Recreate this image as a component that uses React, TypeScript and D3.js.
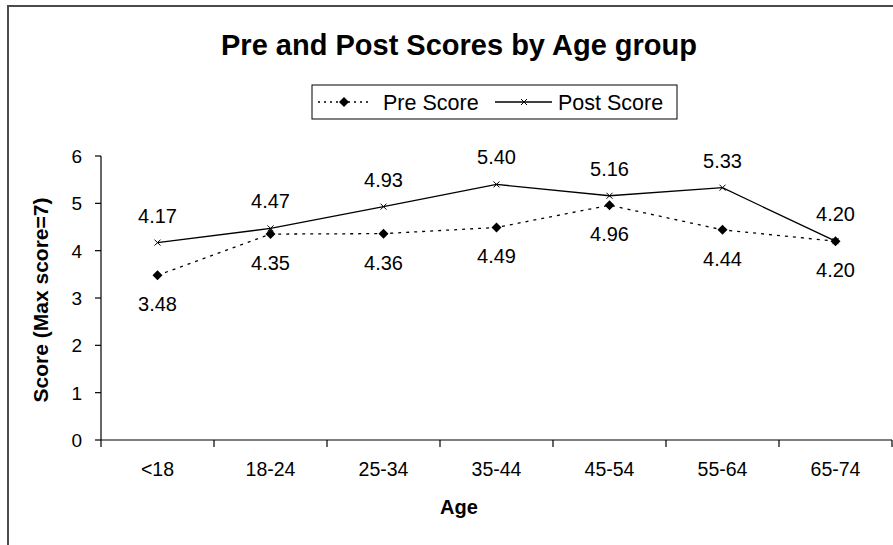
import React from "react";
import * as d3 from "d3";

const categories = ["<18", "18-24", "25-34", "35-44", "45-54", "55-64", "65-74"];
const preScores = [3.48, 4.35, 4.36, 4.49, 4.96, 4.44, 4.2];
const postScores = [4.17, 4.47, 4.93, 5.4, 5.16, 5.33, 4.2];
const yTicks = [0, 1, 2, 3, 4, 5, 6];
const title = "Pre and Post Scores by Age group";
const yTitle = "Score (Max score=7)";
const xTitle = "Age";
const seriesNames = ["Pre Score", "Post Score"];

const W = 893;
const H = 545;
const FONT = "'Liberation Sans', Arial, Helvetica, sans-serif";

export default function App() {
  const left = 101;
  const right = 892;
  const top = 156;
  const bottom = 440;

  const x = d3.scaleBand<string>().domain(categories).range([left, right]).paddingInner(0).paddingOuter(0);
  const y = d3.scaleLinear().domain([0, 6]).range([bottom, top]);
  const cx = (c: string) => (x(c) as number) + x.bandwidth() / 2;

  const line = d3
    .line<number>()
    .x((_, i) => cx(categories[i]))
    .y((d) => y(d));

  const diamond = (px: number, py: number, r = 5) =>
    `M${px},${py - r}L${px + r},${py}L${px},${py + r}L${px - r},${py}Z`;
  const cross = (px: number, py: number, r = 3) =>
    `M${px - r},${py - r}L${px + r},${py + r}M${px - r},${py + r}L${px + r},${py - r}`;

  const bandEdges = categories.map((c) => x(c) as number).concat([right]);

  return (
    <svg
      width={W}
      height={H}
      style={{ position: "absolute", left: 0, top: 0, background: "#fff" }}
      fontFamily={FONT}
    >
      <rect x={0} y={0} width={W} height={H} fill="#fff" />
      {/* outer chart border */}
      <rect x={8} y={6} width={W + 20} height={H + 20} fill="none" stroke="#4a4a4a" strokeWidth={2} />

      {/* title */}
      <text x={459} y={55} textAnchor="middle" fontSize={29} fontWeight="bold" fill="#000">
        {title}
      </text>

      {/* legend */}
      <rect x={312} y={85} width={365} height={34} fill="#fff" stroke="#000" strokeWidth={1} />
      <line x1={318} x2={368} y1={102} y2={102} stroke="#000" strokeWidth={1.3} strokeDasharray="2,4" />
      <path d={diamond(344, 102)} fill="#000" />
      <text x={383} y={110} fontSize={21.5} fill="#000">
        {seriesNames[0]}
      </text>
      <line x1={495} x2={552} y1={102} y2={102} stroke="#000" strokeWidth={1.3} />
      <path d={cross(524, 102, 3)} stroke="#000" strokeWidth={1} fill="none" />
      <text x={558} y={110} fontSize={21.5} fill="#000">
        {seriesNames[1]}
      </text>

      {/* y axis */}
      <line x1={left} x2={left} y1={top} y2={bottom} stroke="#000" strokeWidth={1.2} />
      {yTicks.map((t) => (
        <g key={t}>
          <line x1={left - 6} x2={left} y1={y(t)} y2={y(t)} stroke="#000" strokeWidth={1.2} />
          <text x={82} y={y(t) + 7} textAnchor="end" fontSize={19} fill="#000">
            {t}
          </text>
        </g>
      ))}

      {/* x axis */}
      <line x1={left} x2={right} y1={bottom} y2={bottom} stroke="#000" strokeWidth={1.2} />
      {bandEdges.map((e, i) => (
        <line key={i} x1={e} x2={e} y1={bottom} y2={bottom + 7} stroke="#000" strokeWidth={1.2} />
      ))}
      {categories.map((c) => (
        <text key={c} x={cx(c)} y={476} textAnchor="middle" fontSize={19.5} fill="#000">
          {c}
        </text>
      ))}

      {/* axis titles */}
      <text x={459} y={514} textAnchor="middle" fontSize={20} fontWeight="bold" fill="#000">
        {xTitle}
      </text>
      <text
        transform={`translate(48,300) rotate(-90)`}
        textAnchor="middle"
        fontSize={21}
        fontWeight="bold"
        fill="#000"
      >
        {yTitle}
      </text>

      {/* lines */}
      <path d={line(preScores) || ""} fill="none" stroke="#000" strokeWidth={1.3} strokeDasharray="3,5" />
      <path d={line(postScores) || ""} fill="none" stroke="#000" strokeWidth={1.3} />

      {/* markers */}
      {preScores.map((v, i) => (
        <path key={"pm" + i} d={diamond(cx(categories[i]), y(v))} fill="#000" />
      ))}
      {postScores.map((v, i) => (
        <path
          key={"qm" + i}
          d={cross(cx(categories[i]), y(v))}
          stroke="#000"
          strokeWidth={1}
          fill="none"
        />
      ))}

      {/* labels */}
      {postScores.map((v, i) => (
        <text key={"ql" + i} x={cx(categories[i])} y={y(v) - 20} textAnchor="middle" fontSize={20} fill="#000">
          {v.toFixed(2)}
        </text>
      ))}
      {preScores.map((v, i) => (
        <text key={"pl" + i} x={cx(categories[i])} y={y(v) + 36} textAnchor="middle" fontSize={20} fill="#000">
          {v.toFixed(2)}
        </text>
      ))}
    </svg>
  );
}
